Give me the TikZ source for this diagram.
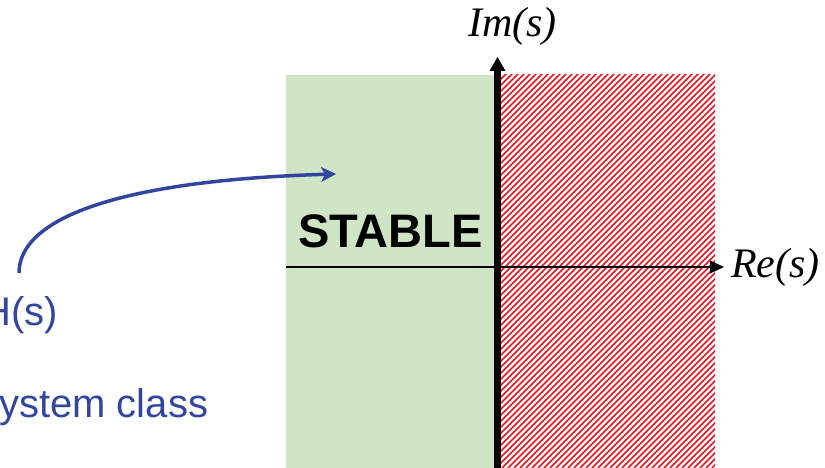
\documentclass[tikz,border=0pt]{standalone}
\usepackage{fontspec}
\setmainfont{Liberation Serif}
\setsansfont{Liberation Sans}
\usetikzlibrary{arrows.meta}
\definecolor{myblue}{RGB}{50,70,160}
\definecolor{mygreen}{RGB}{208,228,198}
\definecolor{myred}{RGB}{232,20,32}
\tikzset{
  axislabel/.style={anchor=base west, inner sep=0pt, font=\fontsize{42}{42}\selectfont\itshape},
  bluetext/.style={anchor=base west, inner sep=0pt, text=myblue, font=\sffamily\fontsize{40}{40}\selectfont},
  hatchline/.style={myred, line width=1.5pt},
  bluearrow/.style={myblue, line width=3.5pt, -{Stealth[length=15pt,width=15pt,inset=4pt,line width=0.5pt]}}
}
\begin{document}
\begin{tikzpicture}[x=1pt,y=-1pt]
\useasboundingbox (0,0) rectangle (825,468);
% stable region
\fill[mygreen] (286,75) rectangle (494,468);
% unstable hatched region
\begin{scope}
  \clip (501,75) rectangle (715,468);
  \foreach \i in {0,...,105} {
    \draw[hatchline] (100+\i*6,468) -- ++(400,-400);
  }
\end{scope}
% real axis
\draw[line width=1.5pt] (286,267) -- (711,267);
\fill (724,267) -- (710,260.5) -- (710,273.5) -- cycle;
% imaginary axis
\draw[line width=7pt] (497.5,468) -- (497.5,70);
\fill (497.5,57) -- (489.5,71) -- (505.5,71) -- cycle;
% labels
\node[axislabel] (re) at (731,277) {Re(s)};
\node[axislabel] (im) at (468,37) {Im(s)};
\node[anchor=base west, inner sep=0pt, font=\sffamily\bfseries\fontsize{47}{47}\selectfont] (stable) at (298,247) {STABLE};
\node[bluetext] (hs) at (-18,325) {H(s)};
\node[bluetext] (cls) at (-1,417) {ystem class};
% arrow
\coordinate (src) at (19,273);
\coordinate (dst) at (336,174);
\draw[bluearrow] (src) .. controls (19,215) and (130,180) .. (dst);
\end{tikzpicture}
\end{document}
